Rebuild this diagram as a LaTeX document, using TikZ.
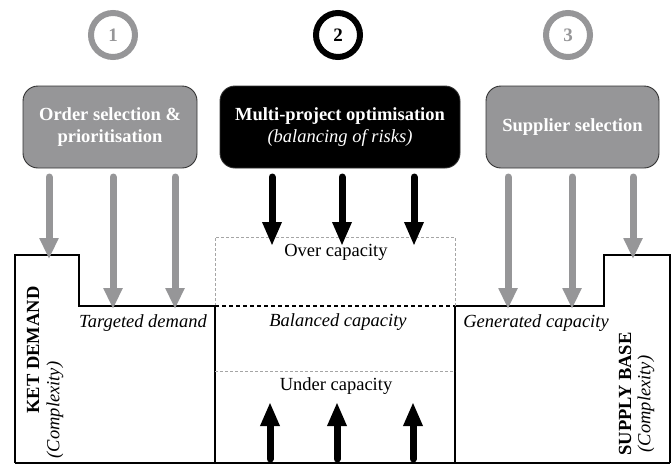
\documentclass[tikz,border=0pt]{standalone}
\usepackage{fontspec}
\setmainfont{Liberation Serif}
\usetikzlibrary{arrows.meta}
\definecolor{midgrey}{RGB}{150,150,152}
\definecolor{dashgrey}{RGB}{165,165,165}
\definecolor{edgegrey}{RGB}{50,50,50}
\begin{document}
\begin{tikzpicture}[x=1pt,y=-1pt,
  ring/.style={circle, draw, line width=6pt, minimum size=44pt, inner sep=0pt, font=\fontsize{19}{21}\selectfont\bfseries},
  procbox/.style={rounded corners=15pt, draw=edgegrey, line width=0.9pt, text=white, align=center,
    font=\fontsize{18.5}{22}\selectfont\bfseries, minimum height=82pt, inner sep=2pt},
  greyarrow/.style={draw=midgrey, line width=7pt, line cap=round, -{Triangle[width=18pt,length=21pt]}},
  blackarrow/.style={draw=black, line width=7pt, line cap=round, -{Triangle[width=18pt,length=24pt]}},
  profile/.style={line width=1.6pt},
  thindash/.style={draw=dashgrey, line width=0.6pt, dash pattern=on 3pt off 2pt},
  lbl/.style={font=\fontsize{18.5}{20}\selectfont, inner sep=0pt},
  ilbl/.style={font=\fontsize{18.5}{20}\selectfont\itshape, inner sep=0pt},
  blbl/.style={font=\fontsize{18.5}{20}\selectfont\bfseries, inner sep=0pt}
]
\useasboundingbox (0,0) rectangle (671,464);

% numbered rings
\node[ring, draw=midgrey, text=midgrey] (n1) at (113,35) {1};
\node[ring, draw=black] (n2) at (338,35) {2};
\node[ring, draw=midgrey, text=midgrey] (n3) at (568,35) {3};

% process boxes
\node[procbox, fill=midgrey, minimum width=174pt] (b1) at (110,127) {Order selection \&\\prioritisation};
\node[procbox, fill=black, minimum width=240pt] (b2) at (340,127) {Multi-project optimisation\\{\mdseries\itshape (balancing of risks)}};
\node[procbox, fill=midgrey, minimum width=173pt] (b3) at (572.5,127) {Supplier selection};

% profile outline
\draw[profile] (15,463) -- (15,255) -- (79,255) -- (79,306) -- (215,306) -- (215,463);
\draw[profile] (455,463) -- (455,306) -- (604,306) -- (604,255) -- (670,255) -- (670,463);
\draw[profile] (15,463) -- (670,463);

% capacity zones
\draw[thindash] (215,306) -- (215,237) -- (455,237) -- (455,306);
\draw[thindash] (215,371) -- (455,371);
\draw[line width=2pt, dash pattern=on 4pt off 3pt] (215,306) -- (455,306);

% arrow end coordinates
\coordinate (g1s) at (49,177);  \coordinate (g1e) at (49,259);
\coordinate (g2s) at (113,177); \coordinate (g2e) at (113,309);
\coordinate (g3s) at (175,177); \coordinate (g3e) at (175,309);
\coordinate (g4s) at (508,177); \coordinate (g4e) at (508,309);
\coordinate (g5s) at (572,177); \coordinate (g5e) at (572,309);
\coordinate (g6s) at (633,177); \coordinate (g6e) at (633,259);
\coordinate (k1s) at (272,177); \coordinate (k1e) at (272,246);
\coordinate (k2s) at (342,177); \coordinate (k2e) at (342,246);
\coordinate (k3s) at (414,177); \coordinate (k3e) at (414,246);
\coordinate (u1s) at (270,459); \coordinate (u1e) at (270,402);
\coordinate (u2s) at (337,459); \coordinate (u2e) at (337,402);
\coordinate (u3s) at (413,459); \coordinate (u3e) at (413,402);

\draw[greyarrow] (g1s) -- (g1e);
\draw[greyarrow] (g2s) -- (g2e);
\draw[greyarrow] (g3s) -- (g3e);
\draw[greyarrow] (g4s) -- (g4e);
\draw[greyarrow] (g5s) -- (g5e);
\draw[greyarrow] (g6s) -- (g6e);
\draw[blackarrow] (k1s) -- (k1e);
\draw[blackarrow] (k2s) -- (k2e);
\draw[blackarrow] (k3s) -- (k3e);
\draw[blackarrow] (u1s) -- (u1e);
\draw[blackarrow] (u2s) -- (u2e);
\draw[blackarrow] (u3s) -- (u3e);

% labels
\node[lbl] (over) at (336,252) {Over capacity};
\node[ilbl] (bal) at (338,322) {Balanced capacity};
\node[lbl] (under) at (336,386) {Under capacity};
\node[ilbl] (targ) at (143,323) {Targeted demand};
\node[ilbl] (gen) at (536,323) {Generated capacity};
\node[blbl, rotate=90] (ket) at (33,350) {KET DEMAND};
\node[ilbl, rotate=90] (ketc) at (55,410) {(Complexity)};
\node[blbl, rotate=90] (sup) at (625,394) {SUPPLY BASE};
\node[ilbl, rotate=90] (supc) at (646,404) {(Complexity)};
\end{tikzpicture}
\end{document}
